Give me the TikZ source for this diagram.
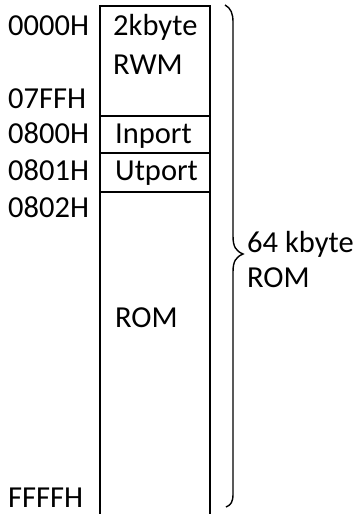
\documentclass[tikz,border=0pt]{standalone}
\usepackage{fontspec}
\setmainfont{Carlito}
\begin{document}
\begin{tikzpicture}[x=1pt,y=-1pt,
  lbl/.style={anchor=base west,inner sep=0pt,font=\fontsize{30.5}{36}\selectfont},
  boxline/.style={line width=2pt},
  bracel/.style={line width=1.4pt}]
\useasboundingbox (0,0) rectangle (355,514);
% memory column
\draw[boxline] (99.5,514) -- (99.5,6) -- (210,6) -- (210,514);
\draw[boxline] (99.5,115.5) -- (210,115.5);
\draw[boxline] (99.5,153) -- (210,153);
\draw[boxline] (99.5,191.5) -- (210,191.5);
% addresses
\node[lbl] (a0) at (8,35) {0000H};
\node[lbl] (a1) at (8,108) {07FFH};
\node[lbl] (a2) at (8,143) {0800H};
\node[lbl] (a3) at (8,180) {0801H};
\node[lbl] (a4) at (8,217) {0802H};
\node[lbl] (a5) at (8,507) {FFFFH};
% contents
\node[lbl] (t1) at (113,35) {2kbyte};
\node[lbl] (t2) at (113,74) {RWM};
\node[lbl] (t3) at (115,143) {Inport};
\node[lbl] (t4) at (115,180) {Utport};
\node[lbl] (t5) at (115,327) {ROM};
% brace
\draw[bracel] (225,5) .. controls (231,8) and (233,14) .. (233,22) -- (233,236)
  .. controls (233,247) and (236,251) .. (243,254)
  .. controls (236,257) and (233,261) .. (233,272) -- (233,494)
  .. controls (233,502) and (231,505) .. (226,507);
\node[lbl] (r1) at (247,252) {64 kbyte};
\node[lbl] (r2) at (247,287) {ROM};
\end{tikzpicture}
\end{document}
